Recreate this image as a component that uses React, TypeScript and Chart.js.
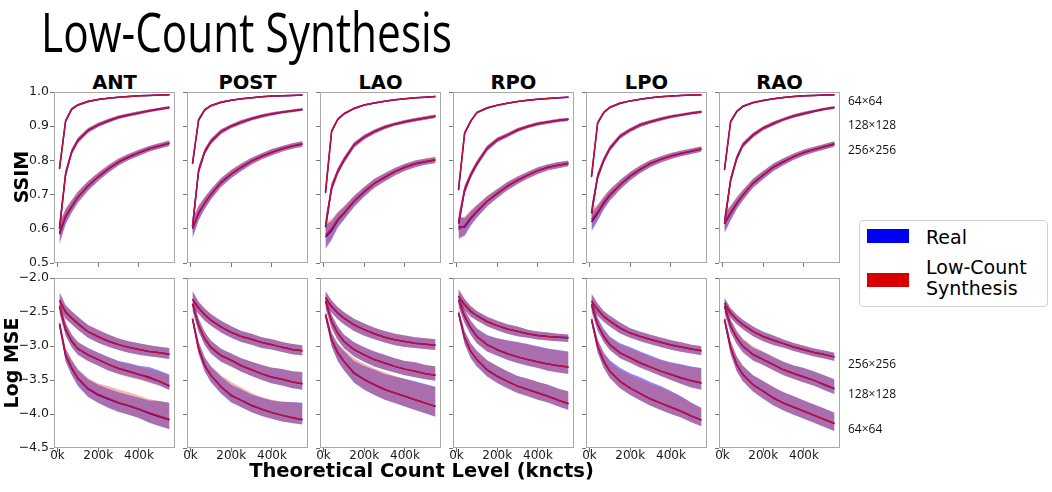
import React, { useEffect, useRef } from 'react';
import { Chart, registerables } from 'chart.js';

Chart.register(...registerables);

// ---------------- data ----------------
const TITLE = 'Low-Count Synthesis';
const VIEWS = ['ANT', 'POST', 'LAO', 'RPO', 'LPO', 'RAO'];
const RESOLUTIONS = ['64×64', '128×128', '256×256'];
const SERIES = ['Real', 'Low-Count Synthesis'];
const X_TITLE = 'Theoretical Count Level (kncts)';
const Y_TITLES = ['SSIM', 'Log MSE'];
const COUNTS = [10000, 40000, 70000, 100000, 150000, 200000, 250000, 300000, 350000, 400000, 450000, 500000, 550000];
const X_TICKS = [0, 200000, 400000];
const SSIM_TICKS = [0.5, 0.6, 0.7, 0.8, 0.9, 1.0];
const MSE_TICKS = [-4.5, -4.0, -3.5, -3.0, -2.5, -2.0];
const X_RANGE = [-17000, 577000];
const SSIM_RANGE = [0.5, 1.0];
const MSE_RANGE = [-4.5, -2.0];

// SSIM mean curves, order: 64×64, 128×128, 256×256
const SSIM_REAL: Record<string, number[][]> = {
  ANT: [
    [0.775, 0.915, 0.950, 0.962, 0.972, 0.978, 0.982, 0.985, 0.987, 0.989, 0.990, 0.991, 0.992],
    [0.600, 0.760, 0.825, 0.858, 0.888, 0.904, 0.916, 0.926, 0.933, 0.939, 0.945, 0.950, 0.955],
    [0.585, 0.635, 0.665, 0.692, 0.725, 0.752, 0.775, 0.795, 0.810, 0.822, 0.834, 0.842, 0.850],
  ],
  POST: [
    [0.790, 0.918, 0.948, 0.960, 0.970, 0.976, 0.980, 0.983, 0.986, 0.988, 0.989, 0.990, 0.991],
    [0.605, 0.770, 0.825, 0.855, 0.884, 0.900, 0.912, 0.922, 0.930, 0.936, 0.941, 0.945, 0.949],
    [0.600, 0.645, 0.675, 0.700, 0.735, 0.760, 0.780, 0.798, 0.812, 0.824, 0.834, 0.842, 0.848],
  ],
  LAO: [
    [0.705, 0.885, 0.920, 0.936, 0.952, 0.962, 0.968, 0.973, 0.977, 0.980, 0.983, 0.985, 0.987],
    [0.605, 0.720, 0.767, 0.800, 0.845, 0.868, 0.884, 0.897, 0.906, 0.913, 0.919, 0.924, 0.929],
    [0.576, 0.595, 0.625, 0.645, 0.680, 0.708, 0.733, 0.750, 0.767, 0.780, 0.790, 0.796, 0.801],
  ],
  RPO: [
    [0.713, 0.879, 0.915, 0.940, 0.953, 0.961, 0.967, 0.972, 0.976, 0.979, 0.981, 0.983, 0.985],
    [0.615, 0.713, 0.757, 0.790, 0.835, 0.860, 0.874, 0.889, 0.899, 0.907, 0.912, 0.917, 0.920],
    [0.605, 0.605, 0.630, 0.650, 0.680, 0.703, 0.725, 0.742, 0.757, 0.770, 0.780, 0.786, 0.791],
  ],
  LPO: [
    [0.752, 0.909, 0.940, 0.955, 0.967, 0.974, 0.979, 0.983, 0.986, 0.988, 0.990, 0.991, 0.992],
    [0.645, 0.752, 0.800, 0.835, 0.870, 0.889, 0.904, 0.913, 0.921, 0.928, 0.933, 0.938, 0.942],
    [0.620, 0.645, 0.674, 0.698, 0.728, 0.754, 0.774, 0.791, 0.803, 0.813, 0.820, 0.827, 0.833],
  ],
  RAO: [
    [0.772, 0.913, 0.943, 0.958, 0.969, 0.975, 0.980, 0.984, 0.987, 0.989, 0.990, 0.991, 0.992],
    [0.615, 0.742, 0.806, 0.845, 0.874, 0.894, 0.908, 0.920, 0.930, 0.937, 0.944, 0.950, 0.955],
    [0.615, 0.645, 0.674, 0.698, 0.733, 0.757, 0.780, 0.796, 0.811, 0.823, 0.832, 0.840, 0.848],
  ],
};

const SSIM_SYN: Record<string, number[][]> = {
  ANT: [
    [0.778, 0.916, 0.950, 0.962, 0.972, 0.978, 0.982, 0.985, 0.987, 0.989, 0.990, 0.991, 0.992],
    [0.603, 0.762, 0.826, 0.858, 0.887, 0.904, 0.916, 0.926, 0.933, 0.939, 0.945, 0.950, 0.955],
    [0.590, 0.638, 0.667, 0.693, 0.726, 0.753, 0.776, 0.796, 0.811, 0.823, 0.834, 0.843, 0.851],
  ],
  POST: [
    [0.792, 0.919, 0.948, 0.960, 0.970, 0.976, 0.980, 0.983, 0.986, 0.988, 0.989, 0.990, 0.991],
    [0.608, 0.771, 0.826, 0.855, 0.884, 0.900, 0.912, 0.922, 0.930, 0.936, 0.941, 0.945, 0.949],
    [0.603, 0.647, 0.676, 0.701, 0.736, 0.761, 0.781, 0.798, 0.812, 0.824, 0.834, 0.842, 0.849],
  ],
  LAO: [
    [0.708, 0.886, 0.920, 0.936, 0.952, 0.962, 0.968, 0.973, 0.977, 0.980, 0.983, 0.985, 0.987],
    [0.608, 0.722, 0.768, 0.801, 0.845, 0.868, 0.884, 0.897, 0.906, 0.913, 0.919, 0.924, 0.929],
    [0.582, 0.601, 0.628, 0.647, 0.681, 0.709, 0.733, 0.751, 0.767, 0.780, 0.790, 0.797, 0.802],
  ],
  RPO: [
    [0.716, 0.880, 0.915, 0.940, 0.953, 0.961, 0.967, 0.972, 0.976, 0.979, 0.981, 0.983, 0.985],
    [0.618, 0.715, 0.758, 0.791, 0.835, 0.860, 0.874, 0.889, 0.899, 0.907, 0.912, 0.917, 0.920],
    [0.598, 0.610, 0.633, 0.652, 0.681, 0.704, 0.725, 0.742, 0.757, 0.770, 0.780, 0.786, 0.792],
  ],
  LPO: [
    [0.755, 0.910, 0.940, 0.955, 0.967, 0.974, 0.979, 0.983, 0.986, 0.988, 0.990, 0.991, 0.992],
    [0.648, 0.754, 0.801, 0.835, 0.870, 0.889, 0.904, 0.913, 0.921, 0.928, 0.933, 0.938, 0.942],
    [0.627, 0.650, 0.677, 0.700, 0.729, 0.755, 0.775, 0.791, 0.803, 0.813, 0.821, 0.827, 0.834],
  ],
  RAO: [
    [0.775, 0.914, 0.943, 0.958, 0.969, 0.975, 0.980, 0.984, 0.987, 0.989, 0.990, 0.991, 0.992],
    [0.618, 0.744, 0.807, 0.845, 0.874, 0.894, 0.908, 0.920, 0.930, 0.937, 0.944, 0.950, 0.955],
    [0.619, 0.648, 0.676, 0.699, 0.734, 0.758, 0.780, 0.797, 0.811, 0.823, 0.832, 0.840, 0.849],
  ],
};

// SSIM band half-widths (both series)
const SSIM_BAND: Record<string, number[][]> = {
  ANT: [
    [0.012, 0.005, 0.004, 0.003, 0.003, 0.002, 0.002, 0.002, 0.002, 0.002, 0.002, 0.002, 0.002],
    [0.022, 0.012, 0.009, 0.008, 0.007, 0.006, 0.006, 0.005, 0.005, 0.005, 0.004, 0.004, 0.004],
    [0.030, 0.022, 0.018, 0.016, 0.014, 0.012, 0.011, 0.010, 0.009, 0.009, 0.008, 0.008, 0.008],
  ],
  POST: [
    [0.012, 0.005, 0.004, 0.003, 0.003, 0.002, 0.002, 0.002, 0.002, 0.002, 0.002, 0.002, 0.002],
    [0.022, 0.012, 0.009, 0.008, 0.007, 0.006, 0.006, 0.005, 0.005, 0.005, 0.004, 0.004, 0.004],
    [0.028, 0.021, 0.017, 0.015, 0.013, 0.012, 0.011, 0.010, 0.009, 0.009, 0.008, 0.008, 0.008],
  ],
  LAO: [
    [0.014, 0.006, 0.004, 0.003, 0.003, 0.002, 0.002, 0.002, 0.002, 0.002, 0.002, 0.002, 0.002],
    [0.024, 0.013, 0.010, 0.009, 0.008, 0.007, 0.006, 0.006, 0.005, 0.005, 0.005, 0.005, 0.005],
    [0.035, 0.028, 0.022, 0.019, 0.016, 0.014, 0.013, 0.012, 0.011, 0.010, 0.010, 0.009, 0.009],
  ],
  RPO: [
    [0.014, 0.006, 0.004, 0.003, 0.003, 0.002, 0.002, 0.002, 0.002, 0.002, 0.002, 0.002, 0.002],
    [0.024, 0.013, 0.010, 0.009, 0.008, 0.007, 0.006, 0.006, 0.005, 0.005, 0.005, 0.005, 0.005],
    [0.032, 0.026, 0.021, 0.018, 0.015, 0.013, 0.012, 0.011, 0.010, 0.010, 0.009, 0.009, 0.008],
  ],
  LPO: [
    [0.012, 0.005, 0.004, 0.003, 0.003, 0.002, 0.002, 0.002, 0.002, 0.002, 0.002, 0.002, 0.002],
    [0.022, 0.012, 0.009, 0.008, 0.007, 0.006, 0.006, 0.005, 0.005, 0.005, 0.004, 0.004, 0.004],
    [0.028, 0.022, 0.018, 0.016, 0.014, 0.012, 0.011, 0.010, 0.009, 0.009, 0.008, 0.008, 0.008],
  ],
  RAO: [
    [0.012, 0.005, 0.004, 0.003, 0.003, 0.002, 0.002, 0.002, 0.002, 0.002, 0.002, 0.002, 0.002],
    [0.022, 0.012, 0.009, 0.008, 0.007, 0.006, 0.006, 0.005, 0.005, 0.005, 0.004, 0.004, 0.004],
    [0.028, 0.021, 0.017, 0.015, 0.013, 0.012, 0.011, 0.010, 0.009, 0.009, 0.008, 0.008, 0.008],
  ],
};

// Log MSE mean curves, order: 64×64, 128×128, 256×256
const MSE_REAL: Record<string, number[][]> = {
  ANT: [
    [-2.68, -3.14, -3.33, -3.48, -3.63, -3.72, -3.78, -3.84, -3.88, -3.93, -3.99, -4.04, -4.085],
    [-2.42, -2.76, -2.93, -3.04, -3.13, -3.20, -3.27, -3.33, -3.37, -3.42, -3.46, -3.52, -3.59],
    [-2.33, -2.50, -2.59, -2.67, -2.79, -2.865, -2.93, -2.98, -3.02, -3.05, -3.08, -3.10, -3.12],
  ],
  POST: [
    [-2.60, -3.04, -3.29, -3.43, -3.60, -3.73, -3.80, -3.875, -3.93, -3.98, -4.02, -4.055, -4.085],
    [-2.38, -2.70, -2.895, -3.02, -3.14, -3.21, -3.29, -3.35, -3.41, -3.46, -3.49, -3.53, -3.555],
    [-2.31, -2.44, -2.54, -2.62, -2.72, -2.80, -2.86, -2.90, -2.95, -2.98, -3.02, -3.05, -3.07],
  ],
  LAO: [
    [-2.54, -2.91, -3.10, -3.225, -3.40, -3.495, -3.57, -3.64, -3.69, -3.74, -3.79, -3.84, -3.89],
    [-2.34, -2.64, -2.81, -2.93, -3.055, -3.13, -3.20, -3.25, -3.30, -3.34, -3.37, -3.41, -3.43],
    [-2.29, -2.42, -2.515, -2.59, -2.69, -2.76, -2.82, -2.87, -2.91, -2.935, -2.96, -2.975, -2.99],
  ],
  RPO: [
    [-2.515, -2.88, -3.08, -3.20, -3.35, -3.445, -3.52, -3.59, -3.64, -3.69, -3.74, -3.80, -3.85],
    [-2.32, -2.565, -2.735, -2.86, -2.98, -3.055, -3.115, -3.16, -3.20, -3.235, -3.265, -3.29, -3.31],
    [-2.27, -2.39, -2.49, -2.555, -2.64, -2.70, -2.75, -2.785, -2.82, -2.845, -2.86, -2.87, -2.88],
  ],
  LPO: [
    [-2.61, -3.005, -3.225, -3.37, -3.52, -3.62, -3.70, -3.78, -3.84, -3.90, -3.96, -4.03, -4.09],
    [-2.39, -2.685, -2.86, -2.98, -3.10, -3.175, -3.25, -3.31, -3.37, -3.42, -3.47, -3.51, -3.545],
    [-2.34, -2.465, -2.565, -2.635, -2.735, -2.81, -2.86, -2.905, -2.945, -2.985, -3.015, -3.045, -3.07],
  ],
  RAO: [
    [-2.61, -3.03, -3.275, -3.42, -3.57, -3.665, -3.765, -3.84, -3.90, -3.96, -4.02, -4.08, -4.14],
    [-2.415, -2.71, -2.88, -3.005, -3.125, -3.20, -3.275, -3.35, -3.405, -3.455, -3.505, -3.57, -3.63],
    [-2.37, -2.515, -2.61, -2.685, -2.785, -2.86, -2.915, -2.965, -3.015, -3.055, -3.095, -3.125, -3.16],
  ],
};

const MSE_SYN: Record<string, number[][]> = {
  ANT: [
    [-2.67, -3.13, -3.32, -3.47, -3.62, -3.71, -3.77, -3.83, -3.88, -3.93, -3.98, -4.03, -4.08],
    [-2.41, -2.75, -2.93, -3.04, -3.13, -3.20, -3.27, -3.33, -3.38, -3.42, -3.47, -3.52, -3.585],
    [-2.33, -2.50, -2.59, -2.67, -2.79, -2.86, -2.93, -2.98, -3.02, -3.05, -3.08, -3.10, -3.12],
  ],
  POST: [
    [-2.60, -3.03, -3.28, -3.43, -3.60, -3.72, -3.80, -3.87, -3.93, -3.98, -4.02, -4.05, -4.08],
    [-2.38, -2.70, -2.89, -3.02, -3.14, -3.21, -3.29, -3.35, -3.41, -3.455, -3.49, -3.53, -3.55],
    [-2.31, -2.44, -2.54, -2.62, -2.72, -2.80, -2.86, -2.90, -2.95, -2.98, -3.02, -3.05, -3.07],
  ],
  LAO: [
    [-2.54, -2.90, -3.10, -3.22, -3.39, -3.49, -3.57, -3.635, -3.69, -3.74, -3.79, -3.84, -3.885],
    [-2.34, -2.64, -2.81, -2.93, -3.05, -3.13, -3.20, -3.25, -3.30, -3.34, -3.37, -3.405, -3.43],
    [-2.29, -2.42, -2.515, -2.59, -2.69, -2.76, -2.82, -2.87, -2.905, -2.935, -2.96, -2.975, -2.99],
  ],
  RPO: [
    [-2.51, -2.88, -3.075, -3.20, -3.345, -3.445, -3.52, -3.59, -3.64, -3.69, -3.74, -3.795, -3.845],
    [-2.32, -2.56, -2.735, -2.86, -2.98, -3.05, -3.11, -3.16, -3.20, -3.235, -3.265, -3.29, -3.31],
    [-2.27, -2.39, -2.49, -2.555, -2.64, -2.70, -2.75, -2.785, -2.82, -2.845, -2.86, -2.87, -2.88],
  ],
  LPO: [
    [-2.61, -3.00, -3.22, -3.37, -3.52, -3.62, -3.70, -3.78, -3.84, -3.90, -3.96, -4.03, -4.09],
    [-2.39, -2.68, -2.86, -2.98, -3.10, -3.175, -3.25, -3.31, -3.37, -3.42, -3.465, -3.51, -3.54],
    [-2.34, -2.465, -2.565, -2.635, -2.735, -2.81, -2.86, -2.905, -2.945, -2.985, -3.015, -3.045, -3.07],
  ],
  RAO: [
    [-2.61, -3.025, -3.27, -3.42, -3.57, -3.665, -3.76, -3.84, -3.90, -3.96, -4.02, -4.08, -4.14],
    [-2.415, -2.705, -2.88, -3.00, -3.125, -3.20, -3.275, -3.35, -3.405, -3.455, -3.505, -3.565, -3.625],
    [-2.37, -2.515, -2.61, -2.685, -2.785, -2.86, -2.915, -2.965, -3.015, -3.055, -3.095, -3.125, -3.16],
  ],
};

// Log MSE band: distance from mean to the upper edge
const MSE_UP_REAL: Record<string, number[][]> = {
  ANT: [
    [0.06, 0.10, 0.12, 0.13, 0.14, 0.15, 0.15, 0.16, 0.16, 0.17, 0.19, 0.23, 0.25],
    [0.10, 0.10, 0.10, 0.10, 0.10, 0.10, 0.11, 0.11, 0.12, 0.13, 0.15, 0.16, 0.17],
    [0.12, 0.10, 0.10, 0.10, 0.10, 0.10, 0.10, 0.09, 0.09, 0.09, 0.09, 0.09, 0.09],
  ],
  POST: [
    [0.06, 0.10, 0.12, 0.13, 0.15, 0.16, 0.16, 0.16, 0.17, 0.18, 0.20, 0.23, 0.25],
    [0.10, 0.10, 0.10, 0.10, 0.10, 0.10, 0.11, 0.12, 0.13, 0.14, 0.15, 0.16, 0.17],
    [0.12, 0.09, 0.09, 0.09, 0.09, 0.09, 0.08, 0.08, 0.08, 0.08, 0.08, 0.08, 0.08],
  ],
  LAO: [
    [0.06, 0.10, 0.13, 0.15, 0.18, 0.20, 0.22, 0.23, 0.24, 0.26, 0.27, 0.28, 0.29],
    [0.10, 0.10, 0.10, 0.10, 0.11, 0.11, 0.12, 0.12, 0.12, 0.12, 0.13, 0.13, 0.13],
    [0.10, 0.09, 0.09, 0.09, 0.09, 0.09, 0.09, 0.09, 0.09, 0.09, 0.09, 0.09, 0.09],
  ],
  RPO: [
    [0.06, 0.10, 0.12, 0.13, 0.14, 0.15, 0.15, 0.15, 0.16, 0.16, 0.17, 0.17, 0.18],
    [0.10, 0.10, 0.11, 0.12, 0.14, 0.17, 0.20, 0.22, 0.23, 0.23, 0.23, 0.23, 0.23],
    [0.11, 0.08, 0.08, 0.07, 0.07, 0.07, 0.07, 0.07, 0.06, 0.06, 0.06, 0.05, 0.05],
  ],
  LPO: [
    [0.06, 0.10, 0.13, 0.16, 0.20, 0.22, 0.24, 0.25, 0.25, 0.24, 0.22, 0.20, 0.18],
    [0.10, 0.10, 0.11, 0.12, 0.14, 0.16, 0.17, 0.17, 0.17, 0.18, 0.20, 0.21, 0.22],
    [0.11, 0.09, 0.08, 0.08, 0.08, 0.07, 0.07, 0.07, 0.07, 0.07, 0.07, 0.065, 0.065],
  ],
  RAO: [
    [0.06, 0.10, 0.12, 0.13, 0.14, 0.15, 0.16, 0.16, 0.16, 0.16, 0.16, 0.16, 0.16],
    [0.10, 0.10, 0.10, 0.10, 0.10, 0.11, 0.11, 0.12, 0.12, 0.13, 0.13, 0.14, 0.14],
    [0.08, 0.07, 0.07, 0.07, 0.07, 0.07, 0.07, 0.06, 0.06, 0.06, 0.06, 0.06, 0.06],
  ],
};

const MSE_UP_SYN: Record<string, number[][]> = {
  ANT: [
    [0.06, 0.10, 0.12, 0.13, 0.15, 0.16, 0.18, 0.19, 0.20, 0.20, 0.20, 0.22, 0.24],
    [0.10, 0.10, 0.10, 0.10, 0.10, 0.10, 0.11, 0.11, 0.11, 0.12, 0.13, 0.14, 0.15],
    [0.12, 0.10, 0.10, 0.10, 0.10, 0.10, 0.10, 0.09, 0.09, 0.09, 0.09, 0.09, 0.09],
  ],
  POST: [
    [0.06, 0.10, 0.12, 0.14, 0.17, 0.19, 0.19, 0.18, 0.18, 0.19, 0.20, 0.22, 0.24],
    [0.10, 0.10, 0.10, 0.10, 0.10, 0.10, 0.11, 0.12, 0.13, 0.14, 0.15, 0.16, 0.17],
    [0.12, 0.09, 0.09, 0.09, 0.09, 0.09, 0.08, 0.08, 0.08, 0.08, 0.08, 0.08, 0.08],
  ],
  LAO: [
    [0.06, 0.10, 0.14, 0.17, 0.21, 0.23, 0.24, 0.25, 0.25, 0.25, 0.26, 0.27, 0.28],
    [0.10, 0.10, 0.10, 0.10, 0.11, 0.11, 0.12, 0.12, 0.12, 0.12, 0.13, 0.13, 0.13],
    [0.10, 0.09, 0.09, 0.09, 0.09, 0.09, 0.09, 0.09, 0.09, 0.09, 0.09, 0.09, 0.09],
  ],
  RPO: [
    [0.06, 0.10, 0.12, 0.13, 0.14, 0.15, 0.15, 0.15, 0.16, 0.16, 0.17, 0.17, 0.18],
    [0.10, 0.10, 0.10, 0.11, 0.13, 0.16, 0.19, 0.21, 0.22, 0.22, 0.22, 0.22, 0.22],
    [0.11, 0.08, 0.08, 0.07, 0.07, 0.07, 0.07, 0.07, 0.06, 0.06, 0.06, 0.05, 0.05],
  ],
  LPO: [
    [0.06, 0.10, 0.12, 0.14, 0.17, 0.19, 0.21, 0.22, 0.23, 0.23, 0.21, 0.19, 0.18],
    [0.10, 0.10, 0.10, 0.11, 0.12, 0.14, 0.15, 0.15, 0.16, 0.17, 0.19, 0.20, 0.21],
    [0.11, 0.09, 0.08, 0.08, 0.08, 0.07, 0.07, 0.07, 0.07, 0.07, 0.07, 0.065, 0.065],
  ],
  RAO: [
    [0.06, 0.10, 0.12, 0.13, 0.14, 0.15, 0.16, 0.16, 0.16, 0.16, 0.16, 0.16, 0.16],
    [0.10, 0.10, 0.10, 0.11, 0.12, 0.12, 0.12, 0.12, 0.12, 0.13, 0.13, 0.13, 0.13],
    [0.08, 0.07, 0.07, 0.07, 0.07, 0.07, 0.07, 0.06, 0.06, 0.06, 0.06, 0.06, 0.06],
  ],
};

// Log MSE band: distance from mean to the lower edge (both series)
const MSE_DN: Record<string, number[][]> = {
  ANT: [
    [0.06, 0.09, 0.10, 0.11, 0.12, 0.12, 0.13, 0.13, 0.13, 0.13, 0.14, 0.14, 0.14],
    [0.10, 0.09, 0.09, 0.09, 0.09, 0.09, 0.09, 0.08, 0.08, 0.07, 0.07, 0.06, 0.06],
    [0.12, 0.10, 0.09, 0.09, 0.09, 0.09, 0.08, 0.08, 0.08, 0.08, 0.07, 0.07, 0.07],
  ],
  POST: [
    [0.06, 0.08, 0.09, 0.10, 0.10, 0.10, 0.10, 0.10, 0.10, 0.09, 0.09, 0.08, 0.07],
    [0.10, 0.09, 0.09, 0.09, 0.09, 0.09, 0.09, 0.09, 0.09, 0.09, 0.09, 0.09, 0.09],
    [0.12, 0.09, 0.09, 0.08, 0.08, 0.08, 0.08, 0.08, 0.08, 0.07, 0.07, 0.07, 0.07],
  ],
  LAO: [
    [0.06, 0.10, 0.12, 0.13, 0.14, 0.15, 0.15, 0.15, 0.15, 0.15, 0.15, 0.15, 0.15],
    [0.10, 0.10, 0.10, 0.10, 0.10, 0.10, 0.10, 0.10, 0.09, 0.09, 0.09, 0.08, 0.08],
    [0.10, 0.09, 0.09, 0.09, 0.09, 0.09, 0.08, 0.08, 0.08, 0.08, 0.07, 0.07, 0.07],
  ],
  RPO: [
    [0.06, 0.09, 0.10, 0.10, 0.10, 0.10, 0.10, 0.10, 0.10, 0.10, 0.09, 0.09, 0.09],
    [0.10, 0.10, 0.10, 0.10, 0.10, 0.09, 0.09, 0.09, 0.09, 0.09, 0.10, 0.10, 0.10],
    [0.11, 0.08, 0.08, 0.07, 0.07, 0.07, 0.07, 0.07, 0.06, 0.06, 0.06, 0.06, 0.06],
  ],
  LPO: [
    [0.06, 0.09, 0.10, 0.10, 0.10, 0.10, 0.10, 0.10, 0.10, 0.10, 0.09, 0.09, 0.09],
    [0.10, 0.09, 0.08, 0.08, 0.08, 0.07, 0.07, 0.07, 0.07, 0.08, 0.09, 0.10, 0.10],
    [0.11, 0.09, 0.08, 0.08, 0.08, 0.07, 0.07, 0.07, 0.07, 0.07, 0.07, 0.065, 0.065],
  ],
  RAO: [
    [0.06, 0.09, 0.10, 0.10, 0.10, 0.11, 0.11, 0.11, 0.11, 0.11, 0.11, 0.11, 0.11],
    [0.10, 0.09, 0.09, 0.09, 0.09, 0.08, 0.08, 0.08, 0.08, 0.08, 0.08, 0.08, 0.08],
    [0.08, 0.07, 0.07, 0.07, 0.07, 0.07, 0.07, 0.06, 0.06, 0.06, 0.06, 0.06, 0.06],
  ],
};

// ---------------- styling / layout ----------------
const REAL_FILL = 'rgba(0, 0, 255, 0.45)';
const SYN_FILL = 'rgba(225, 55, 25, 0.36)';
const REAL_LINE = 'rgba(60, 0, 170, 1)';
const SYN_LINE = 'rgba(205, 15, 50, 0.92)';
const LEGEND_BLUE = '#0000f2';
const LEGEND_RED = '#d80000';
const AXIS_GREY = '#a9a9a9';
const Y_TICK_FONT = { family: '"DejaVu Sans"', size: 12.5 };
const X_TICK_FONT = { family: '"DejaVu Sans"', size: 12 };

const PADL = 52;
const PADR = 3;
const PADT = 10;
const PADB = 26;
const PW = 121;
const PLOT_LEFT0 = 54;
const PLOT_STEP = 133;
const ROW_TOP = [92, 278];
const ROW_H = [171, 170];

const boxPlugin = {
  id: 'panelBox',
  afterDraw(chart: any) {
    const { ctx, chartArea: a } = chart;
    ctx.save();
    ctx.strokeStyle = AXIS_GREY;
    ctx.lineWidth = 1;
    ctx.strokeRect(Math.round(a.left) + 0.5, Math.round(a.top) + 0.5, Math.round(a.right - a.left) - 1, Math.round(a.bottom - a.top) - 1);
    ctx.restore();
  },
};

function pts(mean: number[], off: number[] | null, sign: number) {
  return COUNTS.map((x, i) => ({ x, y: mean[i] + (off ? sign * off[i] : 0) }));
}

function buildConfig(view: string, row: number, col: number): any {
  const ssim = row === 0;
  const realMean = ssim ? SSIM_REAL[view] : MSE_REAL[view];
  const synMean = ssim ? SSIM_SYN[view] : MSE_SYN[view];
  const realUp = ssim ? SSIM_BAND[view] : MSE_UP_REAL[view];
  const synUp = ssim ? SSIM_BAND[view] : MSE_UP_SYN[view];
  const dn = ssim ? SSIM_BAND[view] : MSE_DN[view];
  const base = { pointRadius: 0, pointHoverRadius: 0, tension: 0 };
  const none = 'rgba(0,0,0,0)';
  const datasets: any[] = [];
  RESOLUTIONS.forEach((res, k) => {
    datasets.push(
      { ...base, label: `${SERIES[0]} ${res} upper`, data: pts(realMean[k], realUp[k], 1), fill: '+1', backgroundColor: REAL_FILL, borderColor: none, borderWidth: 0, order: 40 },
      { ...base, label: `${SERIES[0]} ${res} lower`, data: pts(realMean[k], dn[k], -1), fill: false, borderColor: none, borderWidth: 0, order: 40 },
    );
  });
  RESOLUTIONS.forEach((res, k) => {
    datasets.push(
      { ...base, label: `${SERIES[1]} ${res} upper`, data: pts(synMean[k], synUp[k], 1), fill: '+1', backgroundColor: SYN_FILL, borderColor: none, borderWidth: 0, order: 30 },
      { ...base, label: `${SERIES[1]} ${res} lower`, data: pts(synMean[k], dn[k], -1), fill: false, borderColor: none, borderWidth: 0, order: 30 },
    );
  });
  RESOLUTIONS.forEach((res, k) => {
    datasets.push({ ...base, label: `${SERIES[0]} ${res}`, data: pts(realMean[k], null, 0), fill: false, borderColor: REAL_LINE, borderWidth: 1.5, order: 20 });
  });
  RESOLUTIONS.forEach((res, k) => {
    datasets.push({ ...base, label: `${SERIES[1]} ${res}`, data: pts(synMean[k], null, 0), fill: false, borderColor: SYN_LINE, borderWidth: 1.5, order: 10 });
  });

  const yTicks = ssim ? SSIM_TICKS : MSE_TICKS;
  const yRange = ssim ? SSIM_RANGE : MSE_RANGE;
  return {
    type: 'line',
    data: { datasets },
    plugins: [boxPlugin],
    options: {
      animation: false,
      responsive: false,
      events: [],
      layout: { padding: { top: PADT, right: PADR, left: 0, bottom: 0 } },
      plugins: { legend: { display: false }, tooltip: { enabled: false }, title: { display: false } },
      scales: {
        x: {
          type: 'linear',
          min: X_RANGE[0],
          max: X_RANGE[1],
          afterBuildTicks: (s: any) => { s.ticks = X_TICKS.map((v) => ({ value: v })); },
          afterFit: (s: any) => { s.height = PADB; },
          ticks: {
            display: row === 1,
            callback: (v: number) => `${Math.round(v / 1000)}k`,
            font: X_TICK_FONT,
            color: '#1a1a1a',
            padding: -3,
            maxRotation: 0,
            autoSkip: false,
          },
          grid: { display: true, drawOnChartArea: false, drawTicks: true, tickLength: 4, color: '#777', lineWidth: 1 },
          border: { display: false },
        },
        y: {
          type: 'linear',
          min: yRange[0],
          max: yRange[1],
          afterBuildTicks: (s: any) => { s.ticks = yTicks.map((v) => ({ value: v })); },
          afterFit: (s: any) => { s.width = PADL; },
          ticks: {
            display: col === 0,
            callback: (v: number) => (v < 0 ? '\u2212' : '') + Math.abs(v).toFixed(1),
            font: Y_TICK_FONT,
            color: '#1a1a1a',
            padding: 1,
            autoSkip: false,
          },
          grid: { display: true, drawOnChartArea: false, drawTicks: true, tickLength: 4, color: '#777', lineWidth: 1 },
          border: { display: false },
        },
      },
    },
  };
}

function fitScale(text: string, font: string, target: number) {
  try {
    const ctx = document.createElement('canvas').getContext('2d');
    if (!ctx) return 1;
    ctx.font = font;
    const w = ctx.measureText(text).width;
    return w > 0 ? target / w : 1;
  } catch (e) {
    return 1;
  }
}

const txt = (font: string, extra: any): any => ({ position: 'absolute', whiteSpace: 'nowrap', font, lineHeight: 'normal', color: '#000', ...extra });

export default function App() {
  const refs = useRef<(HTMLCanvasElement | null)[]>([]);

  useEffect(() => {
    const charts: Chart[] = [];
    [0, 1].forEach((row) => {
      VIEWS.forEach((view, col) => {
        const cv = refs.current[row * VIEWS.length + col];
        if (cv) charts.push(new Chart(cv, buildConfig(view, row, col)));
      });
    });
    return () => charts.forEach((c) => c.destroy());
  }, []);

  const titleFont = '400 55px "Open Sans"';
  const titleScale = fitScale(TITLE, titleFont, 411);
  const xTitleFont = 'bold 19.5px "DejaVu Sans"';

  const canvases: any[] = [];
  [0, 1].forEach((row) => {
    VIEWS.forEach((view, col) => {
      const idx = row * VIEWS.length + col;
      const w = PADL + PW + PADR;
      const h = PADT + ROW_H[row] + PADB;
      canvases.push(
        <canvas
          key={idx}
          ref={(el) => { refs.current[idx] = el; }}
          width={w}
          height={h}
          style={{ position: 'absolute', left: PLOT_LEFT0 + PLOT_STEP * col - PADL, top: ROW_TOP[row] - PADT, width: w, height: h }}
        />,
      );
    });
  });

  const resTop = [100, 124, 149];
  const resBottom = [428, 393, 363];

  return (
    <div style={{ position: 'absolute', left: 0, top: 0, width: 1052, height: 492, background: '#fff', overflow: 'hidden' }}>
      <div style={txt(titleFont, { left: 41, top: -7, transform: `scaleX(${titleScale})`, transformOrigin: 'left top' })}>{TITLE}</div>

      {VIEWS.map((v, c) => (
        <div key={v} style={txt('bold 19.5px "DejaVu Sans"', { left: PLOT_LEFT0 + PLOT_STEP * c + PW / 2, top: 82, transform: 'translate(-50%, -50%)' })}>{v}</div>
      ))}

      {canvases}

      <div style={txt('bold 19px "DejaVu Sans"', { left: 21, top: 177, transform: 'translate(-50%, -50%) rotate(-90deg)' })}>{Y_TITLES[0]}</div>
      <div style={txt('bold 19px "DejaVu Sans"', { left: 11, top: 363, transform: 'translate(-50%, -50%) rotate(-90deg)' })}>{Y_TITLES[1]}</div>
      <div style={txt(xTitleFont, { left: 421.5, top: 470, transform: 'translate(-50%, -50%)' })}>{X_TITLE}</div>

      {RESOLUTIONS.map((r, i) => (
        <div key={'t' + r} style={txt('12px "Open Sans"', { left: 848, top: resTop[i], transform: 'translateY(-50%)', color: '#111' })}>{r}</div>
      ))}
      {RESOLUTIONS.map((r, i) => (
        <div key={'b' + r} style={txt('12px "Open Sans"', { left: 848, top: resBottom[i], transform: 'translateY(-50%)', color: '#111' })}>{r}</div>
      ))}

      <div style={{ position: 'absolute', left: 859, top: 220, width: 189, height: 87, boxSizing: 'border-box', border: '1px solid #d2d2d2', borderRadius: 4, background: '#fff' }}>
        <div style={{ position: 'absolute', left: 7, top: 8, width: 42, height: 14, background: LEGEND_BLUE }} />
        <div style={{ position: 'absolute', left: 7, top: 52, width: 42, height: 14, background: LEGEND_RED }} />
        <div style={txt('19px "DejaVu Sans"', { left: 66, top: 16, transform: 'translateY(-50%)' })}>{SERIES[0]}</div>
        {SERIES[1].split(' ').map((part, i) => (
          <div key={part} style={txt('19px "DejaVu Sans"', { left: 66, top: 46 + 21 * i, transform: 'translateY(-50%)' })}>{part}</div>
        ))}
      </div>
    </div>
  );
}
